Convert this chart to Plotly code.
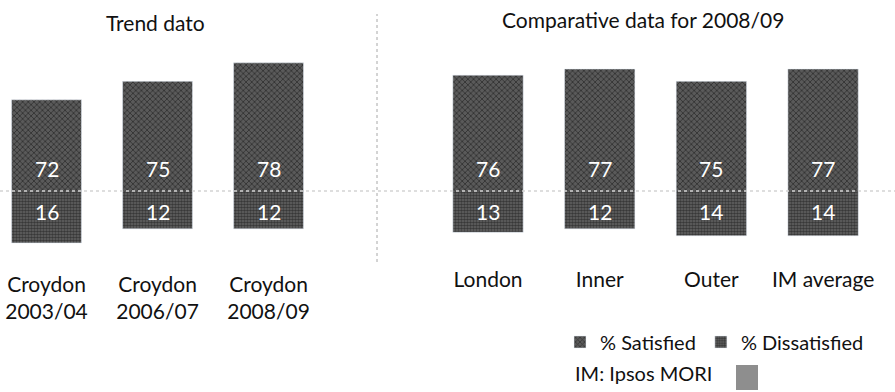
import plotly.graph_objects as go

# Satisfaction survey: trend for Croydon and 2008/09 comparison
trend_labels = ["Croydon<br>2003/04", "Croydon<br>2006/07", "Croydon<br>2008/09"]
trend_satisfied = [72, 75, 78]
trend_dissatisfied = [16, 12, 12]

comp_labels = ["London", "Inner", "Outer", "IM average"]
comp_satisfied = [76, 77, 75, 77]
comp_dissatisfied = [13, 12, 14, 14]

W, H = 895, 392
FONT = "Lato"
BASE_PX = 191          # pixel row of the zero line between the two halves
LOW_PX = 262           # bottom of the dissatisfied half

sat_style = dict(color="#5a5a5a",
                 pattern=dict(shape="x", fgcolor="#0c0c0c", size=4, solidity=0.4))
dis_style = dict(color="#666666",
                 pattern=dict(shape=".", fgcolor="#0a0a0a", size=3, solidity=0.6))

fig = go.Figure()

# Satisfied bars grow up from the baseline, dissatisfied bars hang below it
fig.add_trace(go.Bar(x=trend_labels, y=trend_satisfied, xaxis="x", yaxis="y",
                     width=0.63, marker=sat_style, name="% Satisfied",
                     legendrank=1))
fig.add_trace(go.Bar(x=trend_labels, y=trend_dissatisfied, xaxis="x", yaxis="y2",
                     width=0.63, marker=dis_style, name="% Dissatisfied",
                     legendrank=2))
fig.add_trace(go.Bar(x=comp_labels, y=comp_satisfied, xaxis="x2", yaxis="y",
                     width=0.63, marker=sat_style, showlegend=False))
fig.add_trace(go.Bar(x=comp_labels, y=comp_dissatisfied, xaxis="x2", yaxis="y2",
                     width=0.63, marker=dis_style, showlegend=False))

# value labels sitting just above / below the baseline inside each bar
annotations = []
for xref, cats, sat, dis in (("x", trend_labels, trend_satisfied, trend_dissatisfied),
                             ("x2", comp_labels, comp_satisfied, comp_dissatisfied)):
    for c, s, d in zip(cats, sat, dis):
        annotations.append(dict(x=c, xref=xref, y=0, yref="y domain", text=str(s),
                                showarrow=False, yanchor="middle", yshift=23,
                                font=dict(family=FONT, size=21, color="white")))
        annotations.append(dict(x=c, xref=xref, y=1, yref="y2 domain", text=str(d),
                                showarrow=False, yanchor="middle", yshift=-20,
                                font=dict(family=FONT, size=21, color="white")))

annotations += [
    dict(text="Trend dato", x=155 / W, y=1 - 23 / H, xref="paper", yref="paper",
         showarrow=False, xanchor="center", yanchor="middle",
         font=dict(family=FONT, size=21, color="#111")),
    dict(text="Comparative data for 2008/09", x=643 / W, y=1 - 20 / H,
         xref="paper", yref="paper", showarrow=False, xanchor="center",
         yanchor="middle", font=dict(family=FONT, size=21, color="#111")),
    dict(text="IM: Ipsos MORI", x=573 / W, y=1 - 373 / H, xref="paper",
         yref="paper", showarrow=False, xanchor="left", yanchor="middle",
         font=dict(family=FONT, size=20, color="#111")),
]

shapes = [
    # dotted separator between the two panels
    dict(type="line", xref="paper", yref="paper", x0=377 / W, x1=377 / W,
         y0=1 - LOW_PX / H, y1=1 - 14 / H,
         line=dict(color="#a8a8a8", width=1, dash="dot")),
    # dotted zero line
    dict(type="line", xref="paper", yref="y domain", x0=0, x1=1, y0=0, y1=0,
         layer="above", line=dict(color="#d4d4d4", width=1.5, dash="dot")),
    # swatch next to the source note
    dict(type="rect", xref="paper", yref="paper", x0=736 / W, x1=758 / W,
         y0=1 - 390 / H, y1=1 - 365 / H, fillcolor="#8e8e8e",
         line=dict(width=0)),
]

split = 1 - BASE_PX / H
low = 1 - LOW_PX / H

fig.update_layout(
    width=W, height=H, autosize=False,
    margin=dict(l=0, r=0, t=0, b=0),
    paper_bgcolor="white", plot_bgcolor="white",
    font=dict(family=FONT, size=20, color="#111"),
    showlegend=True,
    legend=dict(orientation="h", x=560 / W, xanchor="left", y=1 - 342 / H,
                yanchor="middle", font=dict(family=FONT, size=20, color="#111"),
                itemwidth=30, bgcolor="rgba(0,0,0,0)", traceorder="normal"),
    xaxis=dict(domain=[0, 380 / W], anchor="y2", range=[-0.419, 3.004],
               showgrid=False, zeroline=False, showline=False, ticks="",
               ticklabelstandoff=8, tickfont=dict(family=FONT, size=21, color="#111")),
    xaxis2=dict(domain=[400 / W, 1], anchor="y2", range=[-0.788, 3.644],
                showgrid=False, zeroline=False, showline=False, ticks="",
                ticklabelstandoff=3, tickfont=dict(family=FONT, size=21, color="#111")),
    yaxis=dict(domain=[split, 1], range=[57.2, 88.2], visible=False,
               anchor="x"),
    yaxis2=dict(domain=[low, split], range=[21.4, 1.3], visible=False,
                anchor="x"),
    annotations=annotations,
    shapes=shapes,
)

fig.write_html("out.html")
